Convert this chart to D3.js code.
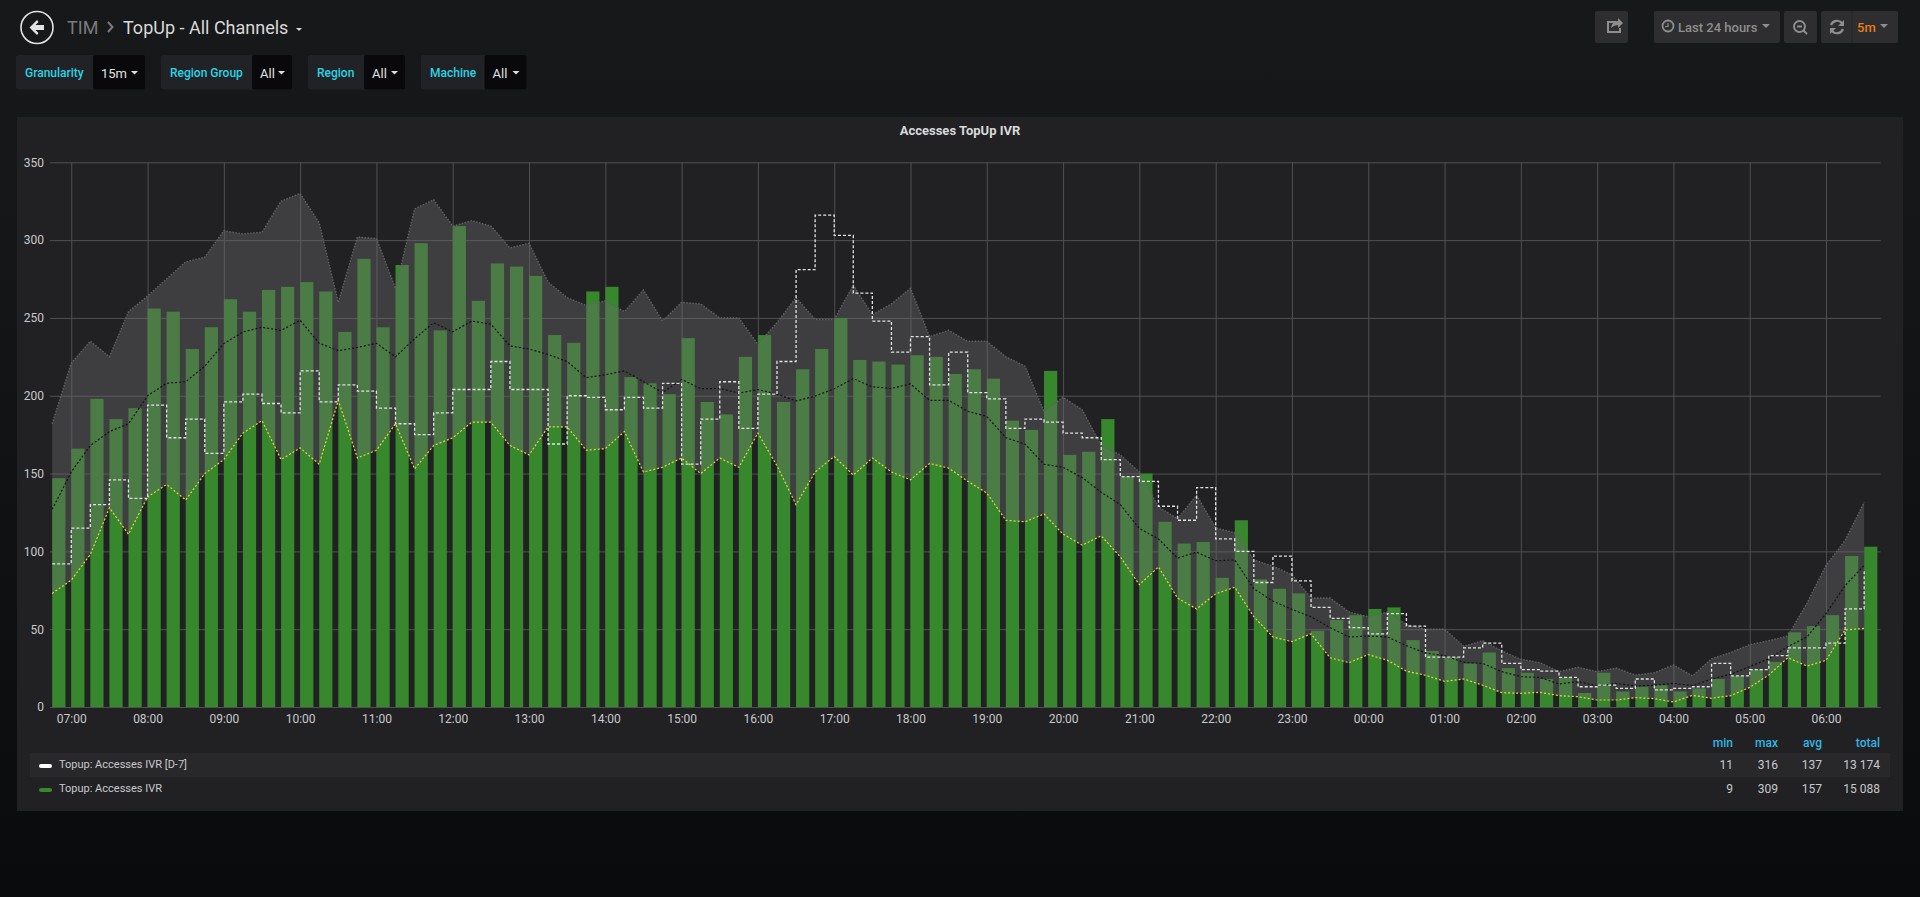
<!DOCTYPE html>
<html>
<head>
<meta charset="utf-8">
<title>TopUp - All Channels</title>
<script src="https://cdnjs.cloudflare.com/ajax/libs/d3/7.8.5/d3.min.js"></script>
<style>
html, body { margin: 0; padding: 0; width: 1920px; height: 897px; overflow: hidden; background: #0b0c0e; }
svg { display: block; font-family: Roboto, sans-serif; }
</style>
</head>
<body>
<div id="chart"></div>
<script>
//accesses per 15 minutes, first value is 06:45
var accesses = [147,166,198,185,192,256,254,230,244,262,254,268,270,273,267,241,288,244,284,298,242,309,261,
	285,283,277,239,234,267,270,212,208,201,237,196,188,225,239,196,217,230,250,223,222,220,226,225,214,
	217,211,184,178,216,162,164,185,148,150,119,105,106,83,120,82,76,73,49,56,59,63,64,43,36,
	32,28,35,25,22,18,19,9,22,10,13,14,10,12,18,20,24,29,48,52,59,97,103];

var accessesD7 = [92,115,130,146,134,194,173,185,163,196,201,195,189,216,196,207,203,192,182,175,189,204,204,
	222,204,204,169,200,199,191,199,192,208,156,185,209,179,201,222,281,316,303,266,248,228,238,207,228,
	202,198,179,185,183,176,173,159,148,145,129,120,141,108,100,80,97,81,64,57,51,47,60,52,32,
	32,38,41,28,24,23,19,13,14,12,18,11,12,13,28,20,24,33,38,38,41,63,88];

//history band
var bandUpper = [182,221,235,225,254,264,275,286,289,306,304,305,325,330,311,260,302,301,269,320,326,309,312.5,
	309,295,298,273,263,258,261,254,268,248,260,259,250,250,233,247,263,249,249,271,252,259,269,238,242,
	235,235,225,219,190,199,191,168,162,151,128.5,121,136,115,112,94.5,90.5,85,70,70,61,58,61,53,50,
	50,39,42.6,36,30.6,28.5,22.7,25.5,22.7,25,20.5,22,27,20,31,35,40,42.6,45.6,66.6,91,107,131.5];

var bandLower = [73,81.5,98,128,111,135,143,133,150,159,176,184,159,166.5,156,197,160,165,182,153,168,173,183,
	183,168,162,180,180,165,166,177,151,154,160,150,160,154,176,155,130,151,161,149,160,151,146,156.5,153.5,
	145,137.5,120,119,124,111,104,110,96.5,78.6,90,70,63,72.7,77,58,45,42,47,31.6,28.5,33.7,30,23,20.4,
	16.5,18,14,9.2,8.8,9.4,7.3,6.6,4.5,4.5,6,5.4,3.2,7.5,5.6,7.3,12.6,20.6,31.7,26.3,30,49.5,50.5];

var bandMean = [127,151,168,177,182,200,208,209,219,233.5,241,244,242,248.5,233.7,229,231,233.7,225,236.6,247,241,248,
	246,232,230,226.6,222,211.6,213.5,216,209,202,210.5,204.5,204.7,201.7,204,201,196.7,199.8,204.5,211,205.7,204.7,207.6,197,197,
	190,186.7,173,169,156,154,147.5,138,130,114.7,108,95.7,99.5,94,94.5,76,68,62.7,58,51,45,45.6,45,39.4,34.7,
	33,28.7,28,22.7,19.5,19,14.8,16.3,13.5,15.2,13.5,14,15.2,13.7,18,21,26,31,38.8,45,60,78,91];

var yTicks = [0,50,100,150,200,250,300,350];

var legendHeader = ["min","max","avg","total"];
var legendNames = ["Topup: Accesses IVR [D-7]","Topup: Accesses IVR"];
var legendD7 = ["11","316","137","13 174"];
var legendNow = ["9","309","157","15 088"];

var variableNames = ["Granularity","Region Group","Region","Machine"];
var variableValues = ["15m","All","All","All"];

var width = 1920, height = 897;
var start = new Date(2018, 5, 4, 6, 45);

var svg = d3.select("#chart").append("svg").attr("width", width).attr("height", height);

var pageGrad = svg.append("defs").append("linearGradient").attr("id", "page")
	.attr("x1", 0).attr("y1", 0).attr("x2", 0).attr("y2", 1);
pageGrad.append("stop").attr("offset", "0%").attr("stop-color", "#17181a");
pageGrad.append("stop").attr("offset", "20%").attr("stop-color", "#161719");
pageGrad.append("stop").attr("offset", "100%").attr("stop-color", "#0a0b0d");
svg.append("rect").attr("width", width).attr("height", height).attr("fill", "url(#page)");

//panel
svg.append("rect").attr("x", 17).attr("y", 117).attr("width", 1886).attr("height", 694).attr("fill", "#212124");
svg.append("text").attr("x", 960).attr("y", 134.5).attr("text-anchor", "middle")
	.attr("font-size", 13).attr("font-weight", 700).attr("fill", "#d8d9da").text("Accesses TopUp IVR");

/** scales **/
function timeAt(i) { return d3.timeMinute.offset(start, i * 15); }

var x = d3.scaleTime().domain([timeAt(0), timeAt(95.9)]).range([52.2, 1880.7]);
var y = d3.scaleLinear().domain([0, 350]).range([707, 162.3]);
var barWidth = 13.2;

/** grid and axes **/
var xAxis = svg.append("g").attr("transform", "translate(0,707)")
	.call(d3.axisBottom(x).ticks(d3.timeHour.every(1)).tickFormat(d3.timeFormat("%H:%M")).tickSize(-544.7).tickPadding(7));
var yAxis = svg.append("g").attr("transform", "translate(50,0)")
	.call(d3.axisLeft(y).tickValues(yTicks).tickSize(-1830.7).tickPadding(6));

[xAxis, yAxis].forEach(function(a) {
	a.select(".domain").remove();
	a.selectAll("line").attr("stroke", "#505053").attr("stroke-width", 1);
	a.selectAll("text").attr("fill", "#c8c9ca").attr("font-size", 12).attr("font-family", "Roboto, sans-serif");
});

/** bars **/
svg.append("g").selectAll("rect").data(accesses).enter().append("rect")
	.attr("x", function(d, i) { return x(timeAt(i)); })
	.attr("y", function(d) { return y(d); })
	.attr("width", barWidth)
	.attr("height", function(d) { return y(0) - y(d); })
	.attr("fill", "#37872d");

/** history band **/
var band = d3.area()
	.x(function(d, i) { return x(timeAt(i)); })
	.y0(function(d, i) { return y(bandLower[i]); })
	.y1(function(d) { return y(d); });

svg.append("path").attr("d", band(bandUpper)).attr("fill", "#6c6c6c").attr("fill-opacity", 0.39);

function drawLine(values, curve, color, dash, w) {
	var line = d3.line().curve(curve)
		.x(function(d, i) { return x(timeAt(i)); })
		.y(function(d) { return y(d); });
	svg.append("path").attr("d", line(values)).attr("fill", "none")
		.attr("stroke", color).attr("stroke-width", w).attr("stroke-dasharray", dash);
}

drawLine(bandUpper, d3.curveLinear, "#626264", "1.5 1.5", 1.4);
drawLine(bandMean, d3.curveLinear, "#111111", "2 2", 1.2);
drawLine(bandLower, d3.curveLinear, "#e8d93c", "2 2", 1.2);
drawLine(accessesD7, d3.curveStepAfter, "#e4e4e4", "3 2", 1.3);

/** legend **/
var legendCols = [1733, 1778, 1822, 1880];
var legend = svg.append("g");
legendHeader.forEach(function(h, i) {
	legend.append("text").attr("x", legendCols[i]).attr("y", 746.5).attr("text-anchor", "end")
		.attr("font-size", 12).attr("font-weight", 500).attr("fill", "#33b5e5").text(h);
});
legend.append("rect").attr("x", 30).attr("y", 753).attr("width", 1860).attr("height", 24).attr("fill", "#28282a");

[legendD7, legendNow].forEach(function(row, r) {
	var ty = 769 + r * 24;
	legend.append("rect").attr("x", 39).attr("y", ty - 5).attr("width", 13).attr("height", 4).attr("rx", 2)
		.attr("fill", r == 0 ? "#ffffff" : "#37872d");
	legend.append("text").attr("x", 59).attr("y", ty - 1).attr("font-size", 11).attr("fill", "#c8c9ca").text(legendNames[r]);
	row.forEach(function(v, i) {
		legend.append("text").attr("x", legendCols[i]).attr("y", ty).attr("text-anchor", "end")
			.attr("font-size", 12).attr("fill", "#c8c9ca").text(v);
	});
});

/** navbar **/
var nav = svg.append("g");
nav.append("circle").attr("cx", 37).attr("cy", 27.5).attr("r", 16).attr("fill", "none").attr("stroke", "#e3e3e3").attr("stroke-width", 1.6);
nav.append("path").attr("d", "M29.5 27.5 L37 20 L38.5 22 L35.5 25 L44 25 L44 30 L35.5 30 L38.5 33 L37 35 Z").attr("fill", "#e3e3e3");
nav.append("text").attr("x", 67).attr("y", 33.5).attr("font-size", 18).attr("fill", "#7b7b7b").text("TIM");
nav.append("path").attr("d", "M108 22 L112.5 27 L108 32").attr("fill", "none").attr("stroke", "#7b7b7b").attr("stroke-width", 2);
nav.append("text").attr("x", 123).attr("y", 33.5).attr("font-size", 18).attr("fill", "#d8d9da").text("TopUp - All Channels");
nav.append("path").attr("d", "M296 28 L302 28 L299 31 Z").attr("fill", "#d8d9da");

function navButton(bx, w) {
	nav.append("rect").attr("x", bx).attr("y", 11).attr("width", w).attr("height", 32).attr("rx", 2).attr("fill", "#2e2e30");
}
navButton(1595, 33);
navButton(1654, 126);
navButton(1784, 33);
navButton(1821, 77);
nav.append("line").attr("x1", 1852).attr("x2", 1852).attr("y1", 11).attr("y2", 43).attr("stroke", "#242426");

//share icon
nav.append("path").attr("d", "M1616 22 h-8 v10 h12 v-4").attr("fill", "none").attr("stroke", "#8e8e8e").attr("stroke-width", 2);
nav.append("path").attr("d", "M1611 28 q1 -7 7 -7 v-3 l5 5 l-5 5 v-3 q-4 0 -7 3 z").attr("fill", "#8e8e8e");
//clock
nav.append("circle").attr("cx", 1668).attr("cy", 26).attr("r", 5.5).attr("fill", "none").attr("stroke", "#8e8e8e").attr("stroke-width", 1.8);
nav.append("path").attr("d", "M1668 23 v3.5 h-3").attr("fill", "none").attr("stroke", "#8e8e8e").attr("stroke-width", 1.2);
nav.append("text").attr("x", 1678).attr("y", 32).attr("font-size", 13).attr("font-weight", 500).attr("fill", "#8e8e8e").text("Last 24 hours");
nav.append("path").attr("d", "M1762 24 h8 l-4 4 z").attr("fill", "#8e8e8e");
//zoom out
nav.append("circle").attr("cx", 1799.5).attr("cy", 26.5).attr("r", 5.5).attr("fill", "none").attr("stroke", "#8e8e8e").attr("stroke-width", 2);
nav.append("path").attr("d", "M1797 26.5 h5 M1803.5 30.5 l3.5 3.5").attr("fill", "none").attr("stroke", "#8e8e8e").attr("stroke-width", 2);
//refresh
nav.append("path").attr("d", "M1831 25 a6.5 6.5 0 0 1 11 -2 M1843 29 a6.5 6.5 0 0 1 -11 2").attr("fill", "none").attr("stroke", "#8e8e8e").attr("stroke-width", 2.2);
nav.append("path").attr("d", "M1844 20 v6 h-6 z M1830 34 v-6 h6 z").attr("fill", "#8e8e8e");
nav.append("text").attr("x", 1857).attr("y", 32).attr("font-size", 13).attr("font-weight", 500).attr("fill", "#eb7b18").text("5m");
nav.append("path").attr("d", "M1880 24 h8 l-4 4 z").attr("fill", "#8e8e8e");

/** template variables **/
var varLabelX = [16, 161, 308, 421];
var varValueX = [93, 252, 364, 484.5];
var varEndX = [145, 292, 405, 526.5];
var vars = svg.append("g");
variableNames.forEach(function(name, i) {
	vars.append("rect").attr("x", varLabelX[i]).attr("y", 55).attr("width", varEndX[i] - varLabelX[i]).attr("height", 34.5)
		.attr("rx", 3).attr("fill", "#212226");
	vars.append("rect").attr("x", varValueX[i]).attr("y", 55).attr("width", varEndX[i] - varValueX[i]).attr("height", 34.5)
		.attr("rx", 2).attr("fill", "#09090b");
	vars.append("text").attr("x", varLabelX[i] + 9).attr("y", 77).attr("font-size", 12).attr("font-weight", 500)
		.attr("fill", "#2ad4e4").text(name);
	vars.append("text").attr("x", varValueX[i] + 8).attr("y", 78).attr("font-size", 13).attr("fill", "#e0e0e0").text(variableValues[i]);
	vars.append("path").attr("d", "M" + (varEndX[i] - 14) + " 71 h7 l-3.5 3.5 z").attr("fill", "#e0e0e0");
});
</script>
</body>
</html>
